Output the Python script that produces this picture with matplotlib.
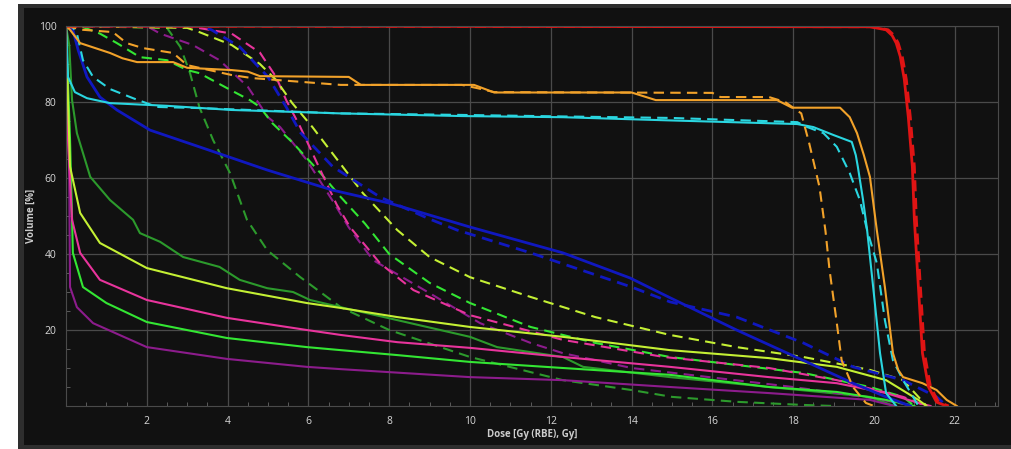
import matplotlib.pyplot as plt
from matplotlib.patches import Rectangle
from matplotlib.ticker import MultipleLocator

# --- DVH curves, dose in Gy and volume in % ---

red_d = [0, 19.9, 20.3, 20.45, 20.55, 20.65, 20.75, 20.85, 20.95, 21.0, 21.1, 21.2, 21.35,
         21.55, 21.8]
red_v = [100, 99.8, 99, 97.5, 95.5, 92, 86, 76, 63, 49, 31.3, 13.9, 5, 1, 0]
red2_d = [0, 19.95, 20.35, 20.5, 20.6, 20.7, 20.8, 20.9, 21.0, 21.05, 21.15, 21.25, 21.4,
          21.6, 21.85]
red2_v = [100, 99.8, 99, 97.5, 95.5, 92, 86, 76, 63, 49, 31.3, 13.9, 5, 1, 0]

orange_d = [0, 0.1, 0.35, 1.09, 1.4, 1.76, 2.65, 3.0, 4.1, 4.5, 4.8, 7.0, 7.3, 10.1, 10.6,
            14.0, 14.6, 17.6, 17.97, 19.16, 19.4, 19.58, 19.75, 19.9, 20.07, 20.27, 20.47,
            20.6, 20.72, 21.2, 21.55, 21.8, 22.05]
orange_v = [100, 99, 95.5, 92.9, 91.5, 90.5, 90.5, 89, 88.4, 88, 86.8, 86.6, 84.5, 84.5, 82.5,
            82.5, 80.5, 80.5, 78.5, 78.5, 76, 71.8, 66, 60.3, 46.3, 31.3, 13.9, 9.5, 7.6, 6,
            4.2, 1.6, 0]
orange2_d = [0, 0.42, 1.16, 1.5, 1.9, 2.65, 3.0, 4.1, 4.6, 6.8, 9.8, 10.2, 10.6, 16.0, 16.2,
             17.4, 17.8, 18.2, 18.4, 18.65, 18.8, 18.9, 19.07, 19.2, 19.48, 19.8, 20.0]
orange2_v = [100, 99, 98.4, 95.5, 94.2, 92.9, 89.7, 87.1, 86.3, 84.5, 84.5, 83.6, 82.6, 82.4,
             81.3, 81.3, 80, 77, 69, 57.7, 46, 35.8, 22.6, 12, 5, 0.8, 0]

cyan_d = [0, 0.02, 0.05, 0.22, 0.52, 1.09, 2.5, 4.1, 6.8, 9.8, 12.3, 14.8, 18.1, 18.5, 19.0,
          19.45, 19.55, 19.6, 19.73, 19.83, 19.98, 20.15, 20.3, 20.55]
cyan_v = [100, 95, 86.6, 82.6, 81, 79.7, 79, 77.9, 77, 76.3, 76, 75.2, 74.2, 73.4, 71.3, 69.5,
          66, 63, 54.2, 46.3, 31.3, 13.9, 3.4, 0]
cyan2_d = [0, 0.15, 0.27, 0.42, 0.67, 1.09, 1.66, 2.25, 3.3, 6.8, 9.8, 12.3, 15.0, 18.1, 18.35,
           18.75, 19.08, 19.4, 19.65, 19.83, 20.07, 20.27, 20.47, 20.72, 20.97, 21.1]
cyan2_v = [100, 100, 98, 91, 86.6, 83.4, 81, 78.7, 78.4, 77, 76.6, 76.2, 75.8, 74.7, 73.4, 71.8,
           68.2, 61.3, 54.2, 46.3, 37.6, 22.6, 12, 6.8, 2.4, 0]

blue_d = [0, 0.17, 0.3, 0.52, 0.84, 1.26, 2.08, 3.3, 4.98, 6.6, 8.0, 10.0, 12.3, 13.96, 14.95,
          16.6, 18.25, 19.48, 20.3, 20.9]
blue_v = [100, 99, 93.7, 86.6, 81.3, 77.9, 72.6, 68.2, 62.1, 56.8, 53.4, 47.1, 40.3, 33.7, 28.5,
          20, 12, 6, 2.4, 0]
blue2_d = [0, 3.3, 3.6, 4.3, 5.0, 5.45, 5.8, 6.6, 7.77, 9.0, 9.68, 11.5, 14.0, 14.95, 16.6,
           18.25, 19.48, 20.72, 21.55, 21.8]
blue2_v = [100, 100, 99, 94.5, 86.6, 78.7, 72, 63, 55, 49.2, 46.3, 40.3, 31.3, 27.4, 23.4, 16.6,
           10.3, 6.8, 2.4, 0]

pink_d = [0, 0.05, 0.15, 0.35, 0.84, 2.0, 3.98, 5.96, 6.8, 8.2, 10.0, 12.3, 14.95, 17.4, 19.08,
          20.3, 21.1, 21.4]
pink_v = [100, 70, 49, 40.3, 33.2, 27.9, 23.2, 20, 18.7, 16.8, 15.3, 12.9, 10.3, 7.6, 6, 3.4,
          0.8, 0]
pink2_d = [0, 3.0, 4.1, 4.8, 5.2, 5.45, 5.8, 6.3, 6.7, 7.03, 7.77, 8.6, 10.0, 12.3, 14.8, 17.4,
           19.08, 20.72, 21.3]
pink2_v = [100, 100, 98, 93, 86.6, 80.5, 73.4, 62, 53, 47.1, 37.6, 30.5, 23.9, 17.4, 12.9, 10,
           6.8, 2.4, 0]

purple_d = [0, 0.08, 0.1, 0.27, 0.67, 2.0, 3.98, 5.96, 6.8, 10.0, 12.3, 14.95, 17.4, 19.9, 20.5]
purple_v = [100, 60, 31.3, 26, 21.8, 15.5, 12.4, 10.3, 9.7, 7.6, 6.8, 5, 3.4, 1.6, 0]
purple2_d = [0, 2.0, 2.33, 3.14, 3.8, 4.5, 5.0, 5.3, 5.96, 6.6, 7.0, 7.6, 9.0, 10.25, 11.5,
             12.3, 14.0, 16.0, 18.0, 20.0, 21.0]
purple2_v = [100, 100, 98, 95, 91, 84, 76, 73.4, 64.7, 54, 47, 38.4, 29.7, 21.8, 16.6, 13.9, 10,
             7.5, 5, 2, 0]

lime_d = [0, 0.05, 0.1, 0.35, 0.84, 2.0, 3.98, 5.96, 6.8, 8.2, 10.0, 12.3, 14.95, 17.4, 19.08,
          20.3, 21.1, 21.3]
lime_v = [100, 80, 63, 50.8, 42.9, 36.3, 31, 27.1, 25.8, 23.4, 20.8, 18.2, 14.7, 12.6, 10.3,
          6.8, 1.6, 0]
lime2_d = [0, 3.0, 3.3, 4.1, 4.8, 5.2, 5.6, 6.1, 6.53, 7.35, 8.2, 9.0, 10.0, 11.5, 13.1, 14.95,
           16.6, 18.25, 19.9, 20.72, 21.1, 21.3]
lime2_v = [100, 99.5, 98.4, 95, 90, 85.8, 79.7, 73.4, 67.4, 56, 46.3, 39.2, 33.9, 28.7, 23.4,
           18.7, 15.5, 12.9, 9.5, 6.8, 2.4, 0]

green_d = [0, 0.1, 0.15, 0.17, 0.42, 1.0, 2.0, 3.98, 5.96, 6.8, 8.2, 10.0, 12.3, 14.95, 17.4,
           19.08, 20.3, 21.0]
green_v = [100, 70, 49, 40.3, 31.3, 27.1, 22.1, 17.9, 15.5, 14.7, 13.4, 11.6, 10, 8.2, 5, 3.7,
           1.6, 0]
green2_d = [0, 0.4, 0.84, 1.26, 1.83, 2.5, 3.0, 3.3, 4.1, 4.55, 4.8, 5.1, 5.62, 6.3, 6.8, 7.4,
            8.0, 9.0, 10.0, 11.5, 13.1, 14.95, 16.6, 18.25, 19.9, 20.72, 21.0]
green2_v = [100, 99.8, 98, 95.5, 91.8, 91, 88.4, 87.6, 83, 80.5, 78.7, 74.5, 69.2, 61.3, 55, 48,
            40, 32.4, 27.1, 20.8, 16.6, 12.9, 10.8, 8.7, 5, 2.4, 0]

dkgreen_d = [0, 0.08, 0.15, 0.27, 0.6, 1.09, 1.66, 1.83, 2.33, 2.9, 3.8, 4.3, 4.98, 5.62, 6.04,
             6.8, 8.2, 10.0, 10.67, 12.3, 12.8, 14.95, 17.4, 19.9, 20.5]
dkgreen_v = [100, 95, 80.5, 71.8, 60.3, 54.2, 49, 45.5, 43.2, 39.2, 36.6, 33.2, 31, 30, 27.9, 26,
             22.6, 18.2, 15.5, 12.9, 10.3, 7.6, 5, 2.4, 0]
dkgreen2_d = [0, 2.5, 2.83, 3.07, 3.3, 3.64, 4.06, 4.48, 4.98, 5.8, 6.8, 8.0, 10.0, 12.3, 14.0,
              15.0, 16.6, 18.2, 19.0]
dkgreen2_v = [100, 99.5, 94.5, 87.6, 78.7, 70, 61.3, 49, 41, 33.9, 26, 20, 12.9, 6.8, 4.2, 2.4,
              1.1, 0.3, 0]

x_ticks = [2, 4, 6, 8, 10, 12, 14, 16, 18, 20, 22]
y_ticks = [20, 40, 60, 80, 100]

# --- figure ---
plt.rcParams['font.family'] = ['Open Sans', 'DejaVu Sans']
fig = plt.figure(figsize=(10.11, 4.49), dpi=100, facecolor='white')

# grey frame and dark panel behind the axes
fig.patches.append(Rectangle((18 / 1011, 0), 1, 445 / 449, transform=fig.transFigure,
                             facecolor='#2e2e2e', edgecolor='none', zorder=-2))
fig.patches.append(Rectangle((24 / 1011, 4 / 449), 1, 437 / 449, transform=fig.transFigure,
                             facecolor='#111111', edgecolor='none', zorder=-1))

ax = fig.add_axes([66 / 1011, 43 / 449, 932 / 1011, 380 / 449])
ax.set_facecolor('#111111')

dash = (5, 3)
lw = 1.5

ax.plot(dkgreen_d, dkgreen_v, color='#2c9a2c', lw=lw)
ax.plot(dkgreen2_d, dkgreen2_v, color='#2c9a2c', lw=lw, dashes=dash)
ax.plot(purple_d, purple_v, color='#8c1c8c', lw=lw)
ax.plot(purple2_d, purple2_v, color='#8c1c8c', lw=lw, dashes=dash)
ax.plot(green_d, green_v, color='#33e633', lw=lw)
ax.plot(green2_d, green2_v, color='#33e633', lw=lw, dashes=dash)
ax.plot(pink_d, pink_v, color='#e8349c', lw=lw)
ax.plot(pink2_d, pink2_v, color='#e8349c', lw=lw, dashes=dash)
ax.plot(lime_d, lime_v, color='#c4f034', lw=lw)
ax.plot(lime2_d, lime2_v, color='#c4f034', lw=lw, dashes=dash)
ax.plot(blue_d, blue_v, color='#1018c0', lw=2)
ax.plot(blue2_d, blue2_v, color='#1018c0', lw=2, dashes=(4, 2.4))
ax.plot(cyan_d, cyan_v, color='#2ad6e0', lw=lw)
ax.plot(cyan2_d, cyan2_v, color='#2ad6e0', lw=lw, dashes=dash)
ax.plot(orange_d, orange_v, color='#f2a22a', lw=lw)
ax.plot(orange2_d, orange2_v, color='#f2a22a', lw=lw, dashes=dash)
ax.plot(red_d, red_v, color='#e01414', lw=2)
ax.plot(red2_d, red2_v, color='#e01414', lw=2, dashes=(4, 2.4))

ax.set_xlim(0, 23.07)
ax.set_ylim(0, 100)
ax.set_xticks(x_ticks)
ax.set_yticks(y_ticks)
ax.xaxis.set_minor_locator(MultipleLocator(0.5))
ax.yaxis.set_minor_locator(MultipleLocator(5))

ax.grid(True, which='major', color='#4a4a4a', lw=0.9)
ax.set_axisbelow(True)
for s in ax.spines.values():
    s.set_color('#4a4a4a')
ax.tick_params(which='major', direction='in', length=0, colors='#d8d8d8', labelsize=7.5, pad=7)
ax.tick_params(which='minor', direction='in', length=3, color='#666666')

ax.set_xlabel('Dose [Gy (RBE), Gy]', color='#cccccc', fontsize=7, fontweight='bold', labelpad=2)
ax.set_ylabel('Volume [%]', color='#cccccc', fontsize=7, fontweight='bold', labelpad=1)

fig.savefig('out.png', dpi=100, facecolor='white')
